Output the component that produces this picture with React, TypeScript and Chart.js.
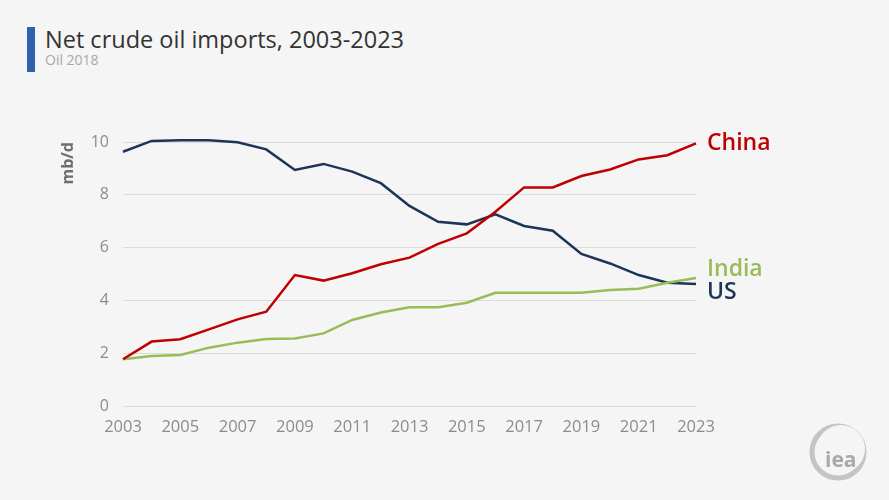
import React, { useEffect, useRef } from "react";
import { Chart, registerables } from "chart.js";

Chart.register(...registerables);

const years = [2003, 2004, 2005, 2006, 2007, 2008, 2009, 2010, 2011, 2012, 2013, 2014, 2015, 2016, 2017, 2018, 2019, 2020, 2021, 2022, 2023];
const china = [1.77, 2.44, 2.53, 2.9, 3.28, 3.57, 4.96, 4.75, 5.03, 5.37, 5.62, 6.14, 6.54, 7.36, 8.28, 8.28, 8.71, 8.96, 9.34, 9.5, 9.95];
const india = [1.77, 1.89, 1.93, 2.21, 2.4, 2.54, 2.56, 2.75, 3.26, 3.54, 3.74, 3.74, 3.91, 4.29, 4.29, 4.29, 4.29, 4.39, 4.44, 4.67, 4.85];
const us = [9.63, 10.04, 10.07, 10.07, 9.99, 9.72, 8.94, 9.17, 8.88, 8.44, 7.58, 6.98, 6.88, 7.26, 6.82, 6.64, 5.76, 5.4, 4.96, 4.67, 4.62];
const seriesNames = ["China", "India", "US"];
const seriesColors = ["#c00000", "#9bbb59", "#1c3557"];
const yTicks = [0, 2, 4, 6, 8, 10];
const title = "Net crude oil imports, 2003-2023";
const subtitle = "Oil 2018";
const yTitle = "mb/d";

const FONT = "'Open Sans', sans-serif";

const endLabels = {
  id: "endLabels",
  afterDatasetsDraw(chart: any) {
    const { ctx } = chart;
    const items = chart.data.datasets.map((ds: any, i: number) => {
      const meta = chart.getDatasetMeta(i);
      const pt = meta.data[meta.data.length - 1];
      return { name: ds.label, color: ds.borderColor, x: pt.x, y: pt.y };
    });
    items.sort((a: any, b: any) => a.y - b.y);
    const gap = 23;
    for (let i = 1; i < items.length; i++) {
      const d = items[i].y - items[i - 1].y;
      if (d < gap) {
        const half = (gap - d) / 2;
        items[i - 1].y -= half;
        items[i].y += half;
      }
    }
    ctx.save();
    ctx.font = `600 23px ${FONT}`;
    ctx.textBaseline = "middle";
    ctx.textAlign = "left";
    for (const it of items) {
      ctx.fillStyle = it.color;
      ctx.fillText(it.name, it.x + 11, it.y);
    }
    ctx.restore();
  },
};

export default function App() {
  const ref = useRef<HTMLCanvasElement>(null);
  useEffect(() => {
    const seriesData = [china, india, us];
    const chart = new Chart(ref.current!, {
      type: "line",
      data: {
        labels: years,
        datasets: seriesNames.map((n, i) => ({
          label: n,
          data: years.map((y, j) => ({ x: y, y: seriesData[i][j] })),
          borderColor: seriesColors[i],
          backgroundColor: seriesColors[i],
          borderWidth: 2.5,
          pointRadius: 0,
          tension: 0,
          clip: false as any,
        })),
      },
      options: {
        animation: false,
        responsive: false,
        layout: { padding: { left: 59, right: 193, top: 142, bottom: 54 } },
        plugins: { legend: { display: false }, tooltip: { enabled: false } },
        scales: {
          x: {
            type: "linear",
            min: 2003,
            max: 2023,
            grid: { display: false, drawTicks: false },
            border: { display: false },
            afterFit: (s: any) => { s.height = 40; },
            ticks: {
              stepSize: 2,
              padding: 11,
              color: "#8c8c8c",
              font: { family: FONT, size: 16.5 },
              callback: (v: any) => String(v),
              maxRotation: 0,
            },
          },
          y: {
            min: 0,
            max: 10,
            afterFit: (s: any) => { s.width = 64; },
            afterBuildTicks: (s: any) => { s.ticks = yTicks.map((v) => ({ value: v })); },
            grid: { color: "#dcdcdc", lineWidth: 1, drawTicks: false },
            border: { display: false },
            ticks: {
              padding: 14,
              color: "#8c8c8c",
              font: { family: FONT, size: 16 },
            },
            title: {
              display: true,
              text: yTitle,
              align: "end",
              color: "#6e6e6e",
              font: { family: FONT, size: 16, weight: "bold" },
              padding: { top: 0, bottom: 0 },
            },
          },
        },
      },
      plugins: [endLabels],
    } as any);
    return () => chart.destroy();
  }, []);

  return (
    <div style={{ position: "fixed", left: 0, top: 0, width: 889, height: 500, background: "#f5f5f5", overflow: "hidden" }}>
      <div style={{ position: "absolute", left: 27, top: 27, width: 8, height: 45, background: "#2f62ad" }} />
      <div style={{ position: "absolute", left: 45, top: 24, fontFamily: FONT, fontSize: 23.5, color: "#333333", whiteSpace: "nowrap", lineHeight: "30px" }}>{title}</div>
      <div style={{ position: "absolute", left: 45, top: 51, fontFamily: FONT, fontSize: 14, color: "#a8a8a8", whiteSpace: "nowrap", lineHeight: "18px" }}>{subtitle}</div>
      <canvas ref={ref} width={889} height={500} style={{ position: "absolute", left: 0, top: 0, width: 889, height: 500 }} />
      <svg width={70} height={70} viewBox="0 0 70 70" style={{ position: "absolute", left: 805, top: 418 }}>
        <circle cx={33} cy={34} r={26} fill="none" stroke="#c4c4c4" strokeWidth={5} />
        <circle cx={36} cy={31} r={24} fill="#f5f5f5" />
        <text x={20} y={49} fontFamily="'Open Sans', sans-serif" fontWeight="bold" fontSize={21} fill="#a9a9a9">iea</text>
      </svg>
    </div>
  );
}
